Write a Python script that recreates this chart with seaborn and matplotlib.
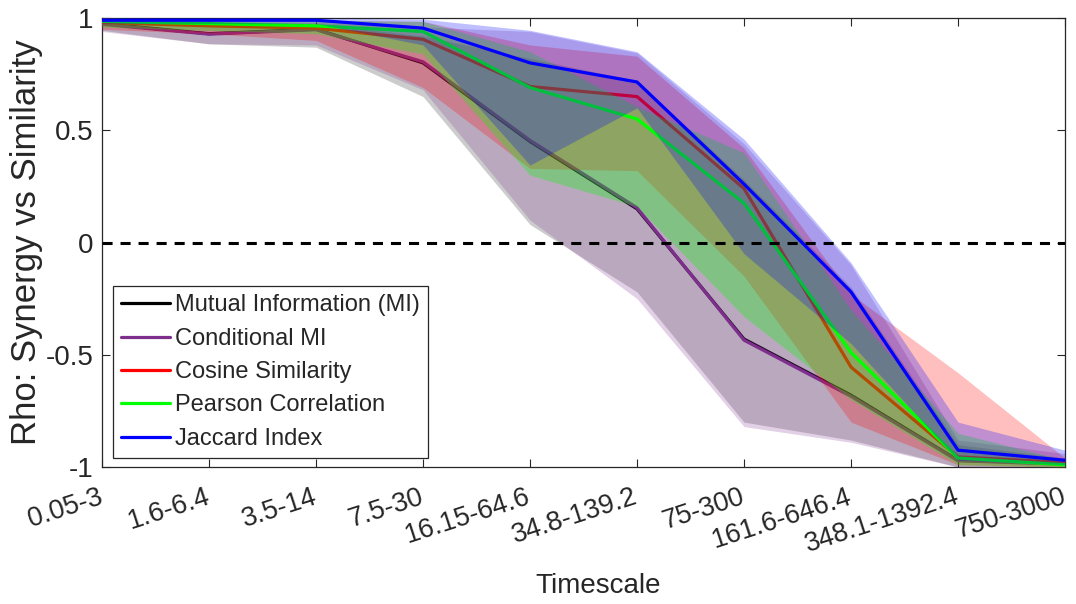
import matplotlib
matplotlib.use("Agg")
import matplotlib.pyplot as plt
import seaborn as sns
import numpy as np
import pandas as pd

# ---------------- data ----------------
timescales = ["0.05-3", "1.6-6.4", "3.5-14", "7.5-30", "16.15-64.6",
              "34.8-139.2", "75-300", "161.6-646.4", "348.1-1392.4", "750-3000"]
series_names = ["Mutual Information (MI)", "Conditional MI", "Cosine Similarity",
                "Pearson Correlation", "Jaccard Index"]

mi_mean  = [0.975, 0.93, 0.95, 0.80, 0.45, 0.15, -0.43, -0.68, -0.97, -0.985]
mi_upper = [0.995, 0.975, 0.975, 0.92, 0.82, 0.72, 0.28, -0.20, -0.90, -0.96]
mi_lower = [0.945, 0.885, 0.87, 0.65, 0.08, -0.22, -0.80, -0.88, -1.0, -1.0]

cmi_mean  = [0.972, 0.928, 0.948, 0.805, 0.455, 0.155, -0.435, -0.685, -0.972, -0.988]
cmi_upper = [0.995, 0.975, 0.98, 0.96, 0.94, 0.845, 0.44, -0.10, -0.88, -0.94]
cmi_lower = [0.94, 0.885, 0.88, 0.68, 0.10, -0.25, -0.82, -0.89, -1.0, -1.0]

cos_mean  = [0.98, 0.965, 0.955, 0.905, 0.695, 0.65, 0.24, -0.555, -0.955, -0.98]
cos_upper = [1.0, 0.99, 0.99, 0.985, 0.88, 0.83, 0.42, -0.23, -0.58, -0.96]
cos_lower = [0.95, 0.93, 0.90, 0.69, 0.33, 0.32, -0.15, -0.80, -0.99, -1.0]

pear_mean  = [0.985, 0.975, 0.965, 0.94, 0.69, 0.55, 0.175, -0.49, -0.96, -0.99]
pear_upper = [1.0, 0.995, 0.99, 0.985, 0.85, 0.605, 0.40, -0.30, -0.85, -0.97]
pear_lower = [0.96, 0.945, 0.93, 0.84, 0.30, 0.16, -0.33, -0.70, -0.99, -1.0]

jac_mean  = [0.99, 0.99, 0.99, 0.955, 0.80, 0.715, 0.26, -0.22, -0.925, -0.97]
jac_upper = [1.0, 1.0, 1.0, 0.995, 0.945, 0.85, 0.46, -0.09, -0.80, -0.925]
jac_lower = [0.975, 0.975, 0.975, 0.88, 0.345, 0.60, -0.05, -0.45, -0.97, -0.99]

ytick_vals = [-1, -0.5, 0, 0.5, 1]
ytick_labels = ["-1", "-0.5", "0", "0.5", "1"]

# ---------------- style ----------------
sns.set_style("ticks")
plt.rcParams["font.family"] = ["Liberation Sans", "DejaVu Sans"]

colors = ["#000000", "#7E2F8E", "#FF0000", "#00FF00", "#0000FF"]
fill_alpha = [0.2, 0.22, 0.25, 0.3, 0.25]
means = [mi_mean, cmi_mean, cos_mean, pear_mean, jac_mean]
uppers = [mi_upper, cmi_upper, cos_upper, pear_upper, jac_upper]
lowers = [mi_lower, cmi_lower, cos_lower, pear_lower, jac_lower]

fig = plt.figure(figsize=(10.76, 6.04), dpi=100)
ax = fig.add_axes([0.0948, 0.2268, 0.895, 0.7434])

x = np.arange(len(timescales))
handles = []
for i, name in enumerate(series_names):
    df = pd.DataFrame({"x": x, "rho": means[i]})
    ax.fill_between(x, lowers[i], uppers[i], color=colors[i], alpha=fill_alpha[i],
                    linewidth=0, zorder=2 + 2 * i)
    sns.lineplot(data=df, x="x", y="rho", color=colors[i], linewidth=2.3,
                 ax=ax, zorder=3 + 2 * i, label=name)
    handles.append(ax.lines[-1])

ax.axhline(0, color="black", linestyle=(0, (3.3, 2.6)), linewidth=2.2, zorder=20)

ax.set_xlim(0, len(timescales) - 1)
ax.set_ylim(-1, 1)
ax.set_xticks(x)
ax.set_xticklabels(timescales, rotation=18, ha="right", va="center",
                   rotation_mode="anchor", fontsize=19.5)
ax.set_yticks(ytick_vals)
ax.set_yticklabels(ytick_labels, fontsize=20)
ax.tick_params(axis="both", direction="in", length=5.5, width=0.8,
               top=True, right=True, color="#262626")
ax.tick_params(axis="x", pad=21)
ax.tick_params(axis="y", pad=6)
for s in ax.spines.values():
    s.set_color("#262626")
    s.set_linewidth(0.9)

ax.set_xlabel("Timescale", fontsize=20, color="#262626", labelpad=12)
ax.xaxis.set_label_coords(0.515, -0.235)
ax.set_ylabel("Rho: Synergy vs Similarity", fontsize=25, color="#262626", labelpad=2)

leg = ax.legend(handles=handles, labels=series_names, loc="lower left",
                bbox_to_anchor=(0.011, 0.02), fontsize=17, frameon=True,
                fancybox=False, framealpha=1, edgecolor="#262626",
                handlelength=2.1, handletextpad=0.2, labelspacing=0.48,
                borderpad=0.35, borderaxespad=0)
leg.get_frame().set_linewidth(0.9)
leg.set_zorder(30)

fig.savefig("out.png", dpi=100)
